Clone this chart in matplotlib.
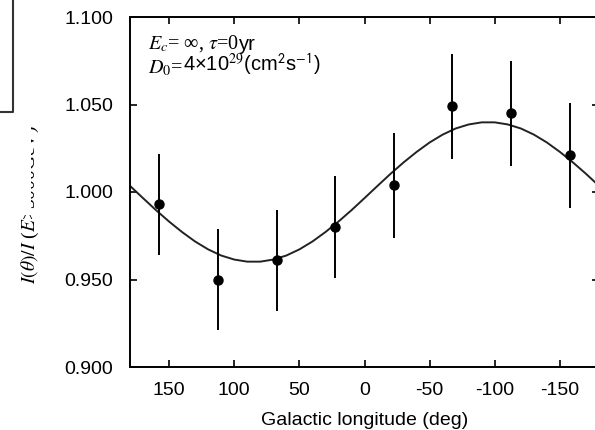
import numpy as np
import matplotlib
matplotlib.use("Agg")
import matplotlib.pyplot as plt
from matplotlib.lines import Line2D
from matplotlib.patches import Rectangle

plt.rcParams['font.family'] = ['Liberation Sans', 'DejaVu Sans']
plt.rcParams['mathtext.fontset'] = 'stix'
plt.rcParams['axes.unicode_minus'] = False

# binned data points (galactic longitude, relative intensity, error)
lon_pts = [157.5, 112.5, 67.5, 22.5, -22.5, -67.5, -112.5, -157.5]
ratio_pts = [0.993, 0.950, 0.961, 0.980, 1.004, 1.049, 1.045, 1.021]
ratio_err = [0.029, 0.029, 0.029, 0.029, 0.030, 0.030, 0.030, 0.030]

# model curve every 10 deg
lon_curve = [180, 170, 160, 150, 140, 130, 120, 110, 100, 90, 80, 70, 60, 50, 40,
             30, 20, 10, 0, -10, -20, -30, -40, -50, -60, -70, -80, -90, -100,
             -110, -120, -130, -140, -150, -160, -170, -180]
ratio_curve = [1.0035, 0.9965, 0.9896, 0.9831, 0.9771, 0.9717, 0.9672, 0.9637,
               0.9614, 0.9602, 0.9602, 0.9614, 0.9637, 0.9672, 0.9717, 0.9771,
               0.9831, 0.9896, 0.9965, 1.0035, 1.0104, 1.0169, 1.0229, 1.0283,
               1.0328, 1.0363, 1.0386, 1.0398, 1.0398, 1.0386, 1.0363, 1.0328,
               1.0283, 1.0229, 1.0169, 1.0104, 1.0035]

x_ticks = [150, 100, 50, 0, -50, -100, -150]
y_ticks = [0.900, 0.950, 1.000, 1.050, 1.100]

SERIF = ['Liberation Serif', 'DejaVu Serif']
W, H = 595, 430
fig = plt.figure(figsize=(W / 100, H / 100), dpi=100)
ax = fig.add_axes([130 / W, (H - 367) / H, (599 - 130) / W, 350 / H])

ax.plot(lon_curve, ratio_curve, color='#222222', lw=1.4)
ax.errorbar(lon_pts, ratio_pts, yerr=ratio_err, fmt='o', color='black',
            ms=6.5, elinewidth=1.4, capsize=0)

ax.set_xlim(180, -180)
ax.set_ylim(0.9, 1.1)
ax.set_xticks(x_ticks)
ax.set_yticks(y_ticks)
ax.set_yticklabels([f"{v:.3f}" for v in y_ticks])
ax.tick_params(direction='in', length=5, width=1.2, labelsize=14,
               top=True, right=True, pad=11)
ax.tick_params(axis='y', pad=12)
for s in ax.spines.values():
    s.set_linewidth(1.4)
ax.set_xlabel("Galactic longitude (deg)", fontsize=14, labelpad=9)

# annotation, mixed serif / sans like the original
fs = 14.5
t1 = ax.text(0.038, 0.911, r"$E_c$= ∞, $\tau$=0", transform=ax.transAxes,
             fontsize=fs, family=SERIF, va='baseline')
ax.annotate("yr", xy=(1, 0), xycoords=t1, va='bottom', fontsize=fs)
t2 = ax.text(0.038, 0.840, r"$D_0$=", transform=ax.transAxes,
             fontsize=fs, family=SERIF, va='baseline')
ax.annotate(r"4×10$^{29}$(cm$^{\mathsf{2}}$s$^{\mathsf{-1}}$)", xy=(1, 0),
            xycoords=t2, va='bottom', fontsize=fs)

# y label, partly hidden in the original
fig.text(30 / W, 1 - 205 / H, r"$I(\theta)/I$ ($E$>3000GeV)", rotation=90,
         ha='center', va='center', fontsize=14, family=SERIF)
fig.add_artist(Rectangle((0, 1 - 215 / H), 31 / W, 115 / H,
                         transform=fig.transFigure, facecolor='white',
                         edgecolor='none', zorder=10))

# remnant box at the top-left corner
fig.add_artist(Line2D([0, 13 / W, 13 / W], [1 - 112 / H, 1 - 112 / H, 1],
                      transform=fig.transFigure, color='#333333', lw=1.5,
                      zorder=11))

fig.savefig("out.png", dpi=100)
